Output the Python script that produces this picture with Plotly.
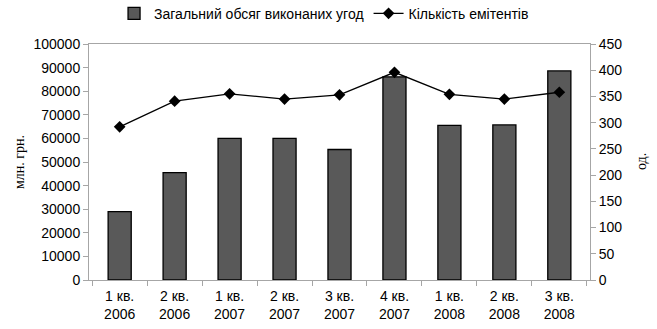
import plotly.graph_objects as go

quarters = ["1 кв.<br>2006", "2 кв.<br>2006", "1 кв.<br>2007", "2 кв.<br>2007",
            "3 кв.<br>2007", "4 кв.<br>2007", "1 кв.<br>2008", "2 кв.<br>2008",
            "3 кв.<br>2008"]
deal_volume = [29000, 45500, 60000, 60000, 55300, 86100, 65500, 65700, 88600]
issuers = [292, 341, 355, 345, 353, 396, 354, 345, 358]

left_ticks = [0, 10000, 20000, 30000, 40000, 50000, 60000, 70000, 80000, 90000, 100000]
right_ticks = [0, 50, 100, 150, 200, 250, 300, 350, 400, 450]

font_main = "Liberation Sans, Arial, sans-serif"
font_serif = "Liberation Serif, Times New Roman, serif"
axis_grey = "#a6a6a6"

fig = go.Figure()
fig.add_trace(go.Bar(
    x=quarters, y=deal_volume, name="Загальний обсяг виконаних угод",
    marker=dict(color="#595959", line=dict(color="#000000", width=1.3)),
    width=0.42, yaxis="y",
))
fig.add_trace(go.Scatter(
    x=quarters, y=issuers, name="Кількість емітентів", mode="lines+markers",
    line=dict(color="#000000", width=1.3),
    marker=dict(symbol="diamond", size=9, color="#000000"),
    yaxis="y2",
))

fig.update_layout(
    width=657, height=329,
    margin=dict(l=89, r=67, t=44, b=49, autoexpand=False),
    paper_bgcolor="white", plot_bgcolor="white",
    font=dict(family=font_main, size=14, color="#000000"),
    legend=dict(orientation="h", x=0.05, xanchor="left", y=1.196, yref="paper",
                yanchor="top", font=dict(size=14), traceorder="normal",
                itemwidth=30, bgcolor="rgba(0,0,0,0)"),
    xaxis=dict(
        showline=True, linecolor=axis_grey, linewidth=1, mirror=True,
        ticks="outside", tickson="boundaries", ticklen=5, tickcolor=axis_grey,
        showgrid=False, tickfont=dict(size=14), ticklabelstandoff=3,
        automargin=False,
    ),
    yaxis=dict(
        range=[0, 100000], tickvals=left_ticks, ticktext=[str(v) for v in left_ticks],
        showline=True, linecolor=axis_grey, linewidth=1,
        ticks="outside", ticklen=5, tickcolor=axis_grey, showgrid=False,
        zeroline=False, tickfont=dict(size=14), automargin=False,
    ),
    yaxis2=dict(
        range=[0, 450], tickvals=right_ticks, overlaying="y", side="right",
        showline=True, linecolor=axis_grey, linewidth=1,
        ticks="outside", ticklen=5, tickcolor=axis_grey, showgrid=False,
        zeroline=False, tickfont=dict(size=14), automargin=False,
    ),
    annotations=[
        dict(text="млн. грн.", textangle=-90, xref="paper", yref="paper",
             x=0.0, xshift=-70, y=0.5, xanchor="center", yanchor="middle",
             showarrow=False, font=dict(family=font_serif, size=14)),
        dict(text="од.", textangle=-90, xref="paper", yref="paper",
             x=1.0, xshift=51, y=0.5, xanchor="center", yanchor="middle",
             showarrow=False, font=dict(family=font_serif, size=14)),
    ],
)

fig.write_html("out.html")
